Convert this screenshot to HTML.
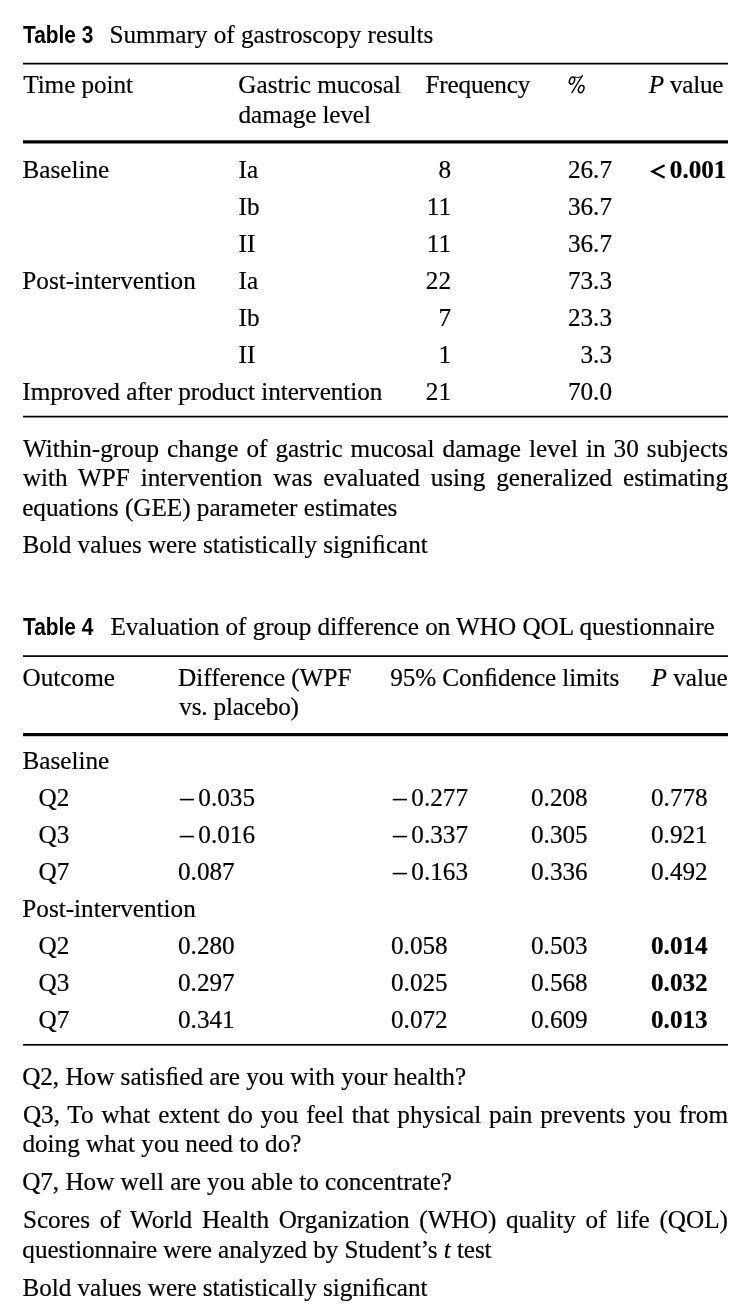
<!DOCTYPE html>
<html><head><meta charset="utf-8"><style>
html,body{margin:0;padding:0;background:#fff;}
#pg{position:absolute;left:0;top:0;width:756px;height:1310px;will-change:transform;background:transparent;}
body{width:756px;height:1310px;position:relative;overflow:hidden;font-family:"Liberation Serif",serif;font-size:25.2px;color:#000;}
.t{position:absolute;white-space:nowrap;-webkit-text-stroke:0.2px #000;line-height:26px;height:26px;}
.r{text-align:right;}
.just{text-align:justify;text-align-last:justify;width:705.1px;}
.cap{font-family:"Liberation Sans",sans-serif;font-weight:bold;font-size:24px;-webkit-text-stroke:0;}
.capi{display:inline-block;transform:scaleX(0.87);transform-origin:0 0;}
.mn{display:inline-block;width:20.3px;height:1px;}
.lt{-webkit-text-stroke:0.7px #000;margin-right:4px;}
svg{position:absolute;left:0;top:0;}
</style></head><body><div id="pg">

<div class="t cap" style="left:22.75px;top:22.00px;"><span class="capi">Table 3</span></div>
<div class="t " style="left:109.52px;top:22.00px;letter-spacing:-0.003px;">Summary of gastroscopy results</div>
<div class="t " style="left:23.23px;top:72.10px;letter-spacing:-0.051px;">Time point</div>
<div class="t " style="left:238.33px;top:72.10px;letter-spacing:-0.027px;">Gastric mucosal</div>
<div class="t " style="left:238.60px;top:101.90px;letter-spacing:-0.111px;">damage level</div>
<div class="t " style="left:425.43px;top:72.10px;letter-spacing:-0.165px;">Frequency</div>
<div class="t " style="left:648.79px;top:72.10px;letter-spacing:-0.256px;"><i>P</i> value</div>
<div class="t " style="left:22.46px;top:157.00px;">Baseline</div>
<div class="t " style="left:238.61px;top:157.00px;">Ia</div>
<div class="t r " style="right:305.00px;top:157.00px">8</div>
<div class="t r " style="right:144.00px;top:157.00px">26.7</div>
<div class="t " style="left:669.85px;top:157.00px;letter-spacing:-0.022px;"><b>0.001</b></div>
<div class="t " style="left:238.61px;top:194.00px;">Ib</div>
<div class="t r " style="right:305.00px;top:194.00px">11</div>
<div class="t r " style="right:144.00px;top:194.00px">36.7</div>
<div class="t " style="left:238.61px;top:231.00px;">II</div>
<div class="t r " style="right:305.00px;top:231.00px">11</div>
<div class="t r " style="right:144.00px;top:231.00px">36.7</div>
<div class="t " style="left:22.33px;top:268.00px;letter-spacing:-0.005px;">Post-intervention</div>
<div class="t " style="left:238.61px;top:268.00px;">Ia</div>
<div class="t r " style="right:305.00px;top:268.00px">22</div>
<div class="t r " style="right:144.00px;top:268.00px">73.3</div>
<div class="t " style="left:238.61px;top:305.00px;">Ib</div>
<div class="t r " style="right:305.00px;top:305.00px">7</div>
<div class="t r " style="right:144.00px;top:305.00px">23.3</div>
<div class="t " style="left:238.61px;top:342.00px;">II</div>
<div class="t r " style="right:305.00px;top:342.00px">1</div>
<div class="t r " style="right:144.00px;top:342.00px">3.3</div>
<div class="t " style="left:22.31px;top:379.00px;letter-spacing:-0.043px;">Improved after product intervention</div>
<div class="t r " style="right:305.00px;top:379.00px">21</div>
<div class="t r " style="right:144.00px;top:379.00px">70.0</div>
<div class="t just" style="left:22.90px;top:436.00px;">Within-group change of gastric mucosal damage level in 30 subjects</div>
<div class="t just" style="left:22.90px;top:465.20px;">with WPF intervention was evaluated using generalized estimating</div>
<div class="t " style="left:22.15px;top:494.50px;letter-spacing:-0.009px;">equations (GEE) parameter estimates</div>
<div class="t " style="left:22.56px;top:532.20px;letter-spacing:-0.048px;">Bold values were statistically signi&#xFB01;cant</div>
<div class="t cap" style="left:22.75px;top:614.00px;"><span class="capi">Table 4</span></div>
<div class="t " style="left:110.41px;top:614.30px;letter-spacing:-0.029px;">Evaluation of group difference on WHO QOL questionnaire</div>
<div class="t " style="left:22.53px;top:664.80px;letter-spacing:0.020px;">Outcome</div>
<div class="t " style="left:178.07px;top:664.80px;letter-spacing:-0.018px;">Difference (WPF</div>
<div class="t " style="left:179.37px;top:693.80px;letter-spacing:-0.194px;">vs. placebo)</div>
<div class="t " style="left:390.31px;top:664.80px;letter-spacing:-0.104px;">95% Con&#xFB01;dence limits</div>
<div class="t " style="left:651.49px;top:664.80px;"><i>P</i> value</div>
<div class="t " style="left:22.46px;top:747.80px;">Baseline</div>
<div class="t " style="left:38.50px;top:784.88px;">Q2</div>
<div class="t " style="left:178.00px;top:784.88px;"><span class="mn"></span>0.035</div>
<div class="t " style="left:391.00px;top:784.88px;"><span class="mn"></span>0.277</div>
<div class="t " style="left:531.00px;top:784.88px;">0.208</div>
<div class="t " style="left:651.00px;top:784.88px;">0.778</div>
<div class="t " style="left:38.50px;top:821.96px;">Q3</div>
<div class="t " style="left:178.00px;top:821.96px;"><span class="mn"></span>0.016</div>
<div class="t " style="left:391.00px;top:821.96px;"><span class="mn"></span>0.337</div>
<div class="t " style="left:531.00px;top:821.96px;">0.305</div>
<div class="t " style="left:651.00px;top:821.96px;">0.921</div>
<div class="t " style="left:38.50px;top:859.04px;">Q7</div>
<div class="t " style="left:178.00px;top:859.04px;">0.087</div>
<div class="t " style="left:391.00px;top:859.04px;"><span class="mn"></span>0.163</div>
<div class="t " style="left:531.00px;top:859.04px;">0.336</div>
<div class="t " style="left:651.00px;top:859.04px;">0.492</div>
<div class="t " style="left:22.33px;top:896.12px;letter-spacing:-0.005px;">Post-intervention</div>
<div class="t " style="left:38.50px;top:933.20px;">Q2</div>
<div class="t " style="left:178.00px;top:933.20px;">0.280</div>
<div class="t " style="left:391.00px;top:933.20px;">0.058</div>
<div class="t " style="left:531.00px;top:933.20px;">0.503</div>
<div class="t " style="left:651.00px;top:933.20px;"><b>0.014</b></div>
<div class="t " style="left:38.50px;top:970.28px;">Q3</div>
<div class="t " style="left:178.00px;top:970.28px;">0.297</div>
<div class="t " style="left:391.00px;top:970.28px;">0.025</div>
<div class="t " style="left:531.00px;top:970.28px;">0.568</div>
<div class="t " style="left:651.00px;top:970.28px;"><b>0.032</b></div>
<div class="t " style="left:38.50px;top:1007.36px;">Q7</div>
<div class="t " style="left:178.00px;top:1007.36px;">0.341</div>
<div class="t " style="left:391.00px;top:1007.36px;">0.072</div>
<div class="t " style="left:531.00px;top:1007.36px;">0.609</div>
<div class="t " style="left:651.00px;top:1007.36px;"><b>0.013</b></div>
<div class="t " style="left:22.13px;top:1063.60px;letter-spacing:-0.022px;">Q2, How satis&#xFB01;ed are you with your health?</div>
<div class="t just" style="left:22.90px;top:1101.50px;">Q3, To what extent do you feel that physical pain prevents you from</div>
<div class="t " style="left:22.40px;top:1130.80px;letter-spacing:-0.002px;">doing what you need to do?</div>
<div class="t " style="left:22.13px;top:1168.70px;letter-spacing:-0.022px;">Q7, How well are you able to concentrate?</div>
<div class="t just" style="left:22.90px;top:1207.20px;">Scores of World Health Organization (WHO) quality of life (QOL)</div>
<div class="t " style="left:22.37px;top:1236.50px;letter-spacing:-0.078px;">questionnaire were analyzed by Student&rsquo;s <i>t</i> test</div>
<div class="t " style="left:22.56px;top:1274.80px;letter-spacing:-0.056px;">Bold values were statistically signi&#xFB01;cant</div>
<svg width="756" height="1310" viewBox="0 0 756 1310">
<rect x="23.00" y="62.75" width="705.00" height="1.75" fill="#000"/>
<rect x="23.00" y="140.30" width="705.00" height="3.20" fill="#000"/>
<rect x="23.00" y="415.75" width="705.00" height="1.70" fill="#000"/>
<rect x="23.00" y="655.25" width="705.00" height="1.70" fill="#000"/>
<rect x="23.00" y="733.00" width="705.00" height="3.20" fill="#000"/>
<rect x="23.00" y="1043.95" width="705.00" height="1.70" fill="#000"/>
<rect x="179.70" y="798.80" width="14.30" height="1.60" fill="#000"/>
<rect x="392.70" y="798.80" width="14.30" height="1.60" fill="#000"/>
<rect x="179.70" y="835.80" width="14.30" height="1.60" fill="#000"/>
<rect x="392.70" y="835.80" width="14.30" height="1.60" fill="#000"/>
<rect x="392.70" y="872.80" width="14.30" height="1.60" fill="#000"/>
<polyline points="664.6,165.3 652.5,171.55 664.6,177.8" fill="none" stroke="#000" stroke-width="2.3" stroke-linejoin="miter"/>
<g fill="none" stroke="#000"><ellipse cx="572.0" cy="80.6" rx="2.4" ry="3.7" stroke-width="1.5" transform="rotate(22 572.0 80.6)"/><ellipse cx="581.2" cy="89.0" rx="2.5" ry="3.8" stroke-width="1.5" transform="rotate(22 581.2 89.0)"/><path d="M582.6,75.2 L571.6,93.2" stroke-width="1.3"/><path d="M573.6,76.9 Q577.5,77.9 581.2,77.0" stroke-width="1.0"/></g>
</svg>
</div></body></html>
